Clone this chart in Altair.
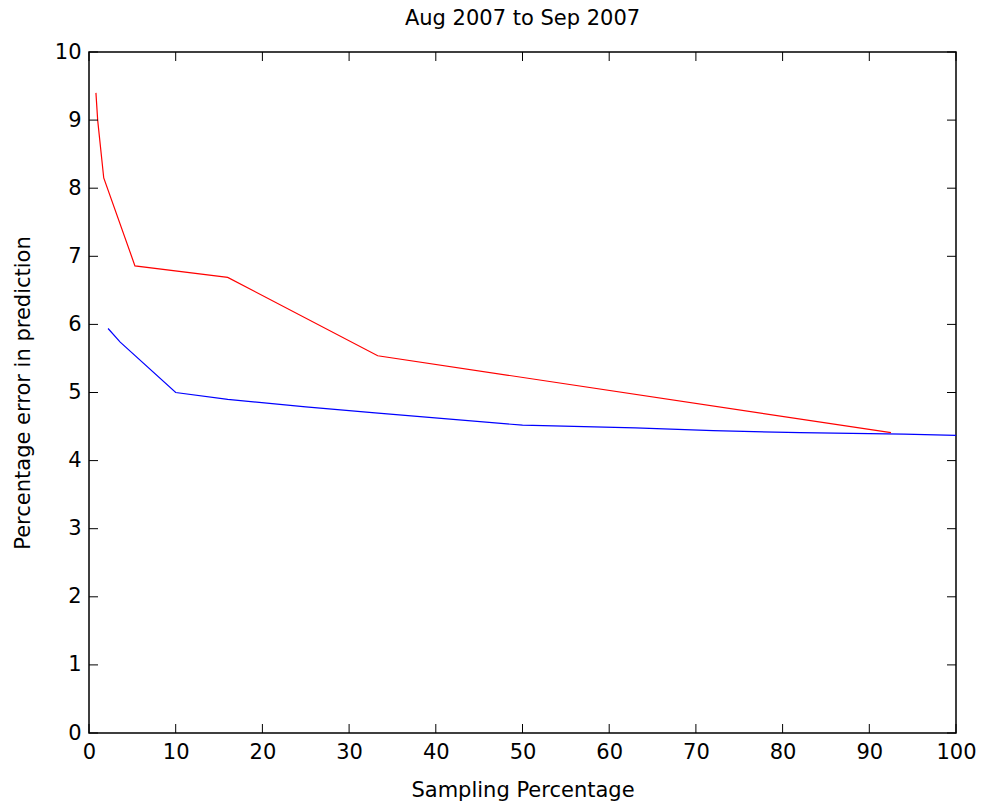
import altair as alt
import pandas as pd

# ---- data ----
red_x = [0.8, 1.0, 1.7, 5.3, 16.0, 33.3, 92.5]
red_y = [9.40, 9.00, 8.15, 6.86, 6.69, 5.54, 4.41]

blue_x = [2.2, 3.6, 10.0, 16.0, 25.0, 33.0, 50.0, 63.0, 72.0, 82.0, 94.0, 100.0]
blue_y = [5.94, 5.74, 5.00, 4.90, 4.79, 4.70, 4.52, 4.48, 4.44, 4.41, 4.39, 4.37]

x_ticks = [0, 10, 20, 30, 40, 50, 60, 70, 80, 90, 100]
y_ticks = [0, 1, 2, 3, 4, 5, 6, 7, 8, 9, 10]

title_text = "Aug 2007 to Sep 2007"
x_title = "Sampling Percentage"
y_title = "Percentage error in prediction"

W, H = 867, 681
FONT = "DejaVu Sans"
FS = 21

df = pd.concat([
    pd.DataFrame({"x": blue_x, "y": blue_y, "s": "blue"}),
    pd.DataFrame({"x": red_x, "y": red_y, "s": "red"}),
])
xt = pd.DataFrame({"t": x_ticks})
yt = pd.DataFrame({"t": y_ticks})

xs = alt.Scale(domain=[0, 100], nice=False, zero=False)
ys = alt.Scale(domain=[0, 10], nice=False, zero=False)
x_axis = alt.Axis(values=x_ticks, ticks=False, domain=False, grid=False, labelFlush=False,
                  labelPadding=8, titlePadding=17, format="d")
y_axis = alt.Axis(values=y_ticks, ticks=False, domain=False, grid=False, labelFlush=False,
                  labelPadding=8, titlePadding=21, format="d")

lines = alt.Chart(df).mark_line(strokeWidth=1.2).encode(
    x=alt.X("x:Q", scale=xs, title=x_title, axis=x_axis),
    y=alt.Y("y:Q", scale=ys, title=y_title, axis=y_axis),
    color=alt.Color("s:N", scale=alt.Scale(domain=["red", "blue"], range=["#ff0000", "#0000ff"]), legend=None),
    detail="s:N",
    order="x:Q",
)

tick_len = 9
bottom = alt.Chart(xt).mark_rule(color="black", strokeWidth=1).encode(
    x=alt.X("t:Q", scale=xs, title=x_title, axis=x_axis), y=alt.value(H), y2=alt.value(H - tick_len))
top = alt.Chart(xt).mark_rule(color="black", strokeWidth=1).encode(
    x=alt.X("t:Q", scale=xs, title=x_title, axis=x_axis), y=alt.value(0), y2=alt.value(tick_len))
left = alt.Chart(yt).mark_rule(color="black", strokeWidth=1).encode(
    y=alt.Y("t:Q", scale=ys, title=y_title, axis=y_axis), x=alt.value(0), x2=alt.value(tick_len))
right = alt.Chart(yt).mark_rule(color="black", strokeWidth=1).encode(
    y=alt.Y("t:Q", scale=ys, title=y_title, axis=y_axis), x=alt.value(W), x2=alt.value(W - tick_len))

chart = alt.layer(lines, bottom, top, left, right).properties(
    width=W, height=H,
    background="white",
    title=alt.TitleParams(title_text, fontSize=FS, font=FONT, fontWeight="normal",
                          color="black", offset=12, anchor="middle"),
    autosize=alt.AutoSizeParams(type="none"),
    padding={"left": 89, "top": 52, "right": 26, "bottom": 79},
).configure_view(stroke="black", strokeWidth=1.5).configure_axis(
    labelFont=FONT, labelFontSize=FS, labelColor="black",
    titleFont=FONT, titleFontSize=FS, titleFontWeight="normal", titleColor="black",
)

chart.save("out.html", embed_options={"renderer": "svg", "actions": False})
